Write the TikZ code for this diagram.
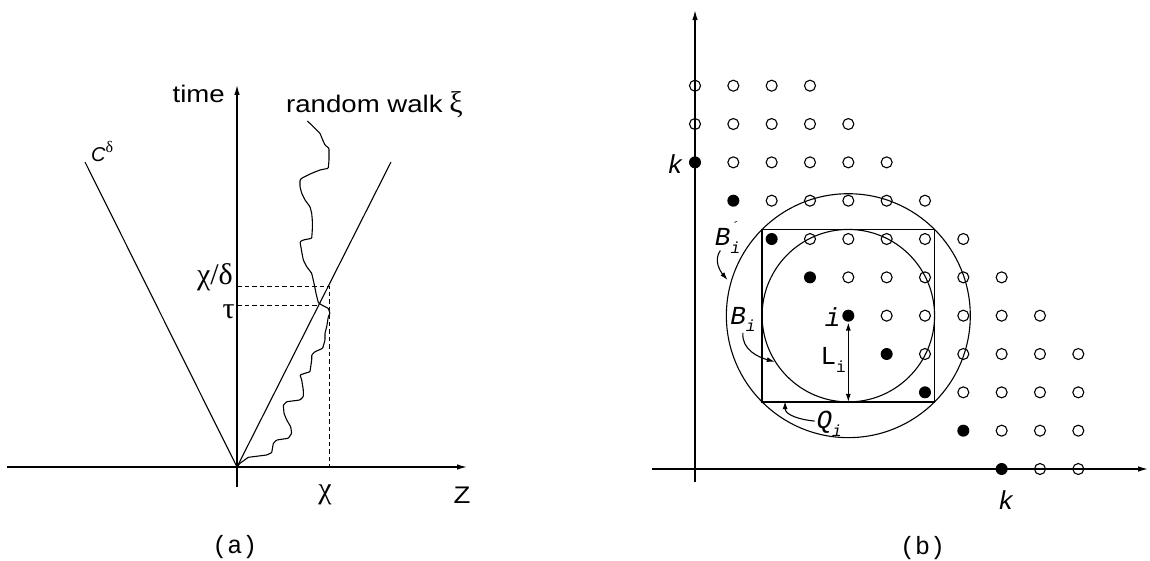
\documentclass[tikz,border=0pt]{standalone}
\usepackage{fontspec}
\setmainfont{Liberation Sans}
\setmonofont{Liberation Mono}
\newfontfamily\grkfont{Liberation Serif}
\usetikzlibrary{arrows.meta}
\newcommand{\wide}[1]{\scalebox{1.15}[1]{#1}}
\newcommand{\grk}[1]{{\grkfont\fontsize{30}{32}\selectfont #1}}
\newcommand{\lsub}[1]{\raisebox{-0.3em}{\fontsize{16}{16}\selectfont #1}}
\tikzset{
  axis/.style={line width=1.2pt, -{Latex[length=10pt,width=5.5pt]}},
  thinline/.style={line width=1.1pt},
  guide/.style={line width=1pt, dash pattern=on 4.5pt off 3pt},
  pointer/.style={line width=1.1pt, -{Latex[length=8pt,width=5pt]}},
  atext/.style={inner sep=0pt, font=\fontsize{24}{28}\selectfont},
  btext/.style={inner sep=0pt, font=\fontsize{26}{30}\selectfont\ttfamily},
  opendot/.style={draw, line width=1.1pt},
}
\begin{document}
\begin{tikzpicture}[x=1pt,y=-1pt]
\useasboundingbox (0,0) rectangle (1150,561);

% ---------- panel (a)
\coordinate (O) at (237,467);
\coordinate (zleft) at (7,467);
\coordinate (zright) at (467,467);
\coordinate (tbot) at (237,487);
\coordinate (ttop) at (237,85);
\draw[axis] (zleft) -- (zright);
\draw[axis] (tbot) -- (ttop);

% cone C^delta
\coordinate (coneL) at (85,162);
\coordinate (coneR) at (391,162);
\draw[thinline] (O) -- (coneL);
\draw[thinline] (O) -- (coneR);

% hitting point and guides
\coordinate (hit) at (329,286);
\coordinate (hitax) at (237,286);
\coordinate (tau) at (319,305);
\coordinate (tauax) at (237,305);
\coordinate (chiax) at (329,467);
\draw[guide] (hitax) -- (hit) -- (chiax);
\draw[guide] (tauax) -- (tau);

% random walk
\draw[thinline, rounded corners=0.8pt] (O)
  -- (240,463.3) -- (248.3,457.3) -- (266.7,455) -- (271.7,452.7)
  -- (273.3,443.3) -- (276.7,440) -- (288.3,438.3) -- (291.7,433.3)
  -- (290.7,426.7) -- (286.7,420) -- (284,413.3) -- (283.3,405)
  -- (286.7,401.7) -- (300,400) -- (303.3,396.7) -- (303.3,390)
  -- (301.7,380) -- (300,375) -- (305,373.3) -- (310,371.7)
  -- (311.7,360) -- (311.7,355) -- (315,351.7) -- (322.7,348.3)
  -- (325,340) -- (325,333.3) -- (326.7,326.7) -- (328.3,316.7)
  -- (330,313.3) -- (328.3,308.3) -- (321.7,305) -- (318.3,302.7)
  -- (316,293.3) -- (314,283.3) -- (311.7,273.3) -- (306.7,266.7)
  -- (303.3,260) -- (301.7,251.7) -- (300,241.7) -- (303.3,240)
  -- (311.7,238.3) -- (312.3,230) -- (312.3,220) -- (311.7,213.3)
  -- (310,206.7) -- (305,200) -- (301.7,193.3) -- (300,186.7)
  -- (300,180) -- (301.7,178.3) -- (306,176) -- (311.7,173.3)
  -- (320,170) -- (328.3,168.3) -- (329,160) -- (329,148.3)
  -- (325,145) -- (322.7,140) -- (320,133.3) -- (315,128.3)
  -- (311.7,125) -- (307.3,121);

% labels (a)
\node[atext, anchor=base east] (timelbl) at (225,103) {\wide{time}};
\node[atext, anchor=base west] (walklbl) at (286,113) {\wide{random walk} \grk{ξ}};
\node[atext, anchor=base west] (conelbl) at (91,162)
  {\fontsize{20}{22}\selectfont\itshape C\raisebox{0.45em}{\upshape\grkfont\fontsize{16}{18}\selectfont δ}};
\node[atext, anchor=east] (hitlbl) at (233,277) {\grk{χ/δ}};
\node[atext, anchor=east] (taulbl) at (235,312) {\grk{τ}};
\node[atext] (chilbl) at (325,495) {\grk{χ}};
\node[atext] (zlbl) at (462,495) {\wide{Z}};
\node[btext, font=\fontsize{25}{28}\selectfont\ttfamily] (capa) at (235,547) {(a)};

% ---------- panel (b)
\begin{scope}[shift={(695,469)}, x=38.33pt, y=38.33pt]
  \coordinate (bO) at (0,0);
  \coordinate (hleft) at (-1.12,0);
  \coordinate (hright) at (11.82,0);
  \coordinate (vbot) at (0,-0.34);
  \coordinate (vtop) at (0,11.97);
  \draw[axis] (hleft) -- (hright);
  \draw[axis] (vbot) -- (vtop);

  % lattice points: filled on the diagonal j+m=8
  \foreach \j in {0,...,10}{
    \foreach \m in {0,...,10}{
      \pgfmathtruncatemacro{\s}{\j+\m}
      \ifnum\s=8
        \fill (\j,\m) circle[radius=6pt];
      \else\ifnum\s>8\ifnum\s<14
        \draw[opendot] (\j,\m) circle[radius=5.5pt];
      \fi\fi\fi
    }
  }

  % balls and cube around i
  \coordinate (ctr) at (4,4);
  \draw[thinline] (ctr) circle[radius=2.25];
  \draw[thinline] (ctr) circle[radius=3.182];
  \draw[line width=1.2pt] (1.75,1.75) rectangle (6.25,6.25);

  % radius L_i
  \coordinate (ltop) at (4,3.82);
  \coordinate (lbot) at (4,1.75);
  \draw[line width=1.1pt, {Latex[length=8pt,width=5pt]}-{Latex[length=8pt,width=5pt]}] (ltop) -- (lbot);

  % labels (b)
  \node[btext, anchor=east] (ilbl) at (3.8,3.96) {\itshape i};
  \node[btext, anchor=east] (llbl) at (3.94,2.84) {L\lsub{i}};
  \node[btext] (kleft) at (-0.52,7.96) {\itshape k};
  \node[btext] (kbot) at (8.11,-0.81) {\itshape k};
  \node[btext] (blbl) at (1.25,3.9) {\itshape B\lsub{i}};
  \node[btext] (bplbl) at (0.85,6.05)
    {\itshape B\rlap{\raisebox{0.55em}{\fontsize{14}{14}\selectfont ´}}\lsub{i}};
  \node[btext] (qlbl) at (3.5,1.17) {\itshape Q\lsub{i}};

  \coordinate (bend) at (2.08,2.8);
  \coordinate (bstart) at (1.25,3.55);
  \draw[pointer] (bstart) to[out=-95, in=165] (bend);
  \coordinate (bpstart) at (0.66,5.7);
  \coordinate (bpend) at (0.85,4.93);
  \draw[pointer] (bpstart) to[out=-125, in=130] (bpend);
  \coordinate (qstart) at (3.12,1.25);
  \coordinate (qend) at (2.35,1.77);
  \draw[pointer] (qstart) to[out=175, in=-90] (qend);

  \node[btext, font=\fontsize{25}{28}\selectfont\ttfamily] (capb) at (5.94,-2.05) {(b)};
\end{scope}
\end{tikzpicture}
\end{document}
